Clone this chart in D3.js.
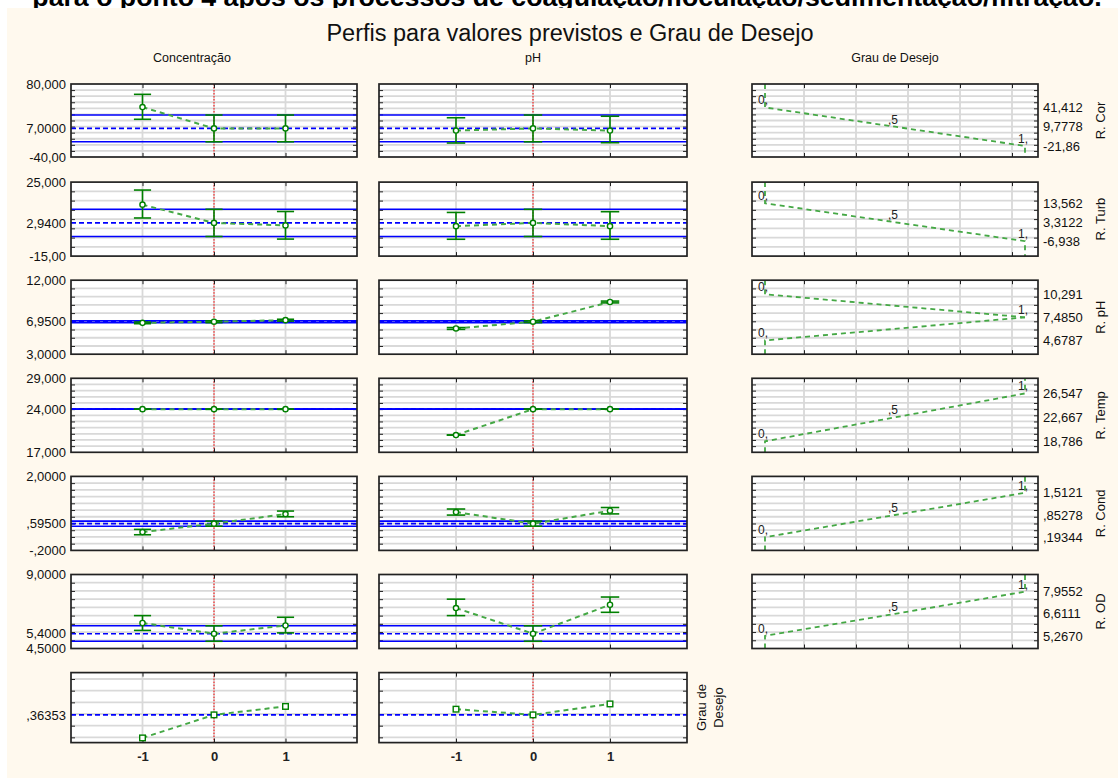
<!DOCTYPE html>
<html>
<head>
<meta charset="utf-8">
<script src="https://cdn.jsdelivr.net/npm/d3@7"></script>
<style>
  body { margin: 0; background: #fff; }
  svg { display: block; }
  text { font-family: "Liberation Sans", Arial, sans-serif; fill: #111; }
</style>
</head>
<body>
<svg id="chart" width="1118" height="778"></svg>
<script>
// ---- data ----
const levels = [-1, 0, 1];
const factorNames = ["Concentração", "pH"];
const responseNames = ["R. Cor", "R. Turb", "R. pH", "R. Temp", "R. Cond", "R. OD"];
const desirName = ["Grau de", "Desejo"];

// y range of each row (responses, then overall desirability)
const yRanges = [[-40, 80], [-15, 25], [3, 12], [17, 29], [-0.2, 2.0], [4.5, 9.0], [0.316, 0.436]];
const gridFirst = [-30, -10, 4, 18, 0, 5.0, 0.325];
const gridStep = [10, 5, 1, 1, 0.2, 0.5, 0.02];

// predicted value and confidence band at the current setting (level 0)
const currentPred = [7.0, 2.94, 6.95, 24.0, 0.595, 5.40, 0.36353];
const currentLo = [-15, -4.4, 6.84, 24.0, 0.52, 4.94];
const currentHi = [29, 10.3, 7.06, 24.0, 0.67, 5.88];

// profiles over Concentração (levels -1, 0, 1)
const concPred = [[42, 7, 7], [12.8, 2.94, 1.6], [6.81, 6.95, 7.14], [24, 24, 24], [0.345, 0.595, 0.88], [6.05, 5.40, 5.9], [0.324, 0.36353, 0.378]];
const concLo = [[22, -15, -15], [5.6, -4.4, -5.8], [6.71, 6.84, 7.03], [24, 24, 24], [0.265, 0.52, 0.80], [5.60, 4.94, 5.45]];
const concHi = [[63, 29, 29], [20.7, 10.3, 9.1], [6.91, 7.06, 7.25], [24, 24, 24], [0.425, 0.67, 0.97], [6.50, 5.88, 6.40]];

// profiles over pH (levels -1, 0, 1)
const phPred = [[3.5, 7, 3.5], [1.2, 2.94, 1.2], [6.13, 6.95, 9.35], [19.8, 24, 24], [0.94, 0.595, 0.98], [6.96, 5.40, 7.16], [0.3733, 0.36353, 0.3823]];
const phLo = [[-17, -15, -16.5], [-5.9, -4.4, -5.9], [6.02, 6.84, 9.24], [19.8, 24, 24], [0.85, 0.52, 0.885], [6.50, 4.94, 6.70]];
const phHi = [[24.5, 29, 27], [8.6, 10.3, 9.0], [6.24, 7.06, 9.46], [19.8, 24, 24], [1.03, 0.67, 1.075], [7.50, 5.88, 7.63]];

// desirability functions: response values at d = 0, 0.5, 1
// ("target" rows: high limit, target, low limit)
const desLevels = [0, 0.5, 1];
const desValues = [
  [41.412, 9.7778, -21.86],
  [13.562, 3.3122, -6.938],
  [10.291, 7.4850, 4.6787],
  [18.786, 22.667, 26.547],
  [0.19344, 0.85278, 1.5121],
  [5.2670, 6.6111, 7.9552]
];
const desShape = ["smaller", "smaller", "target", "larger", "larger", "larger"];

const titleTop = "para o ponto 4 após os processos de coagulação/floculação/sedimentação/filtração.";
const title = "Perfis para valores previstos e Grau de Desejo";

// ---- layout ----
const colX = [[71, 357], [379, 687], [752, 1038]];
const rowTop = d3.range(7).map(i => 84 + i * 98.1);
const rowH = [73, 74, 74, 74, 74, 74, 70];

const GREEN = "#008000", GREEN_L = "#45a845", BLUE = "#0000ff", RED = "#ff0000", GRID = "#d9d9d9";

const fmtNum = v => {
  const neg = v < 0;
  let s = d3.format("." + (neg ? 4 : 5) + "r")(Math.abs(v));
  s = s.replace(/^0\./, ".").replace(".", ",");
  return (neg ? "-" : "") + s;
};
const fmtDes = d => {
  const s = String(d);
  if (s.indexOf(".") < 0) return s + ",";
  return s.replace(/^0\./, ",").replace(".", ",");
};

const svg = d3.select("#chart");

// caption line of the page, mostly above the top edge
svg.append("text").attr("x", 567).attr("y", 6).attr("text-anchor", "middle")
  .attr("font-size", 26.7).attr("font-weight", "bold").style("fill", "#000").text(titleTop);

svg.append("rect").attr("x", 7).attr("y", 8).attr("width", 1111).attr("height", 770).attr("fill", "#fff9ee");

svg.append("text").attr("x", 570).attr("y", 41).attr("text-anchor", "middle")
  .attr("font-size", 23.5).style("fill", "#111").text(title);

const headerX = [192, 533, 895];
[...factorNames, "Grau de Desejo"].forEach((t, i) => {
  svg.append("text").attr("x", headerX[i]).attr("y", 62).attr("text-anchor", "middle")
    .attr("font-size", 12.5).text(t);
});

function gridTicks(r) {
  const [lo, hi] = yRanges[r];
  return d3.range(gridFirst[r], hi - gridStep[r] * 0.01, gridStep[r]).filter(v => v > lo + 1e-9);
}

function innerAxes(g, x, y, xt, yt, x0, x1, top, h) {
  const clean = sel => { sel.select(".domain").remove(); sel.selectAll("line").attr("stroke", "#222").attr("stroke-width", 1); };
  g.append("g").attr("transform", `translate(${x0},0)`).call(d3.axisLeft(y).tickValues(yt).tickSize(-4).tickFormat("")).call(clean);
  g.append("g").attr("transform", `translate(${x1},0)`).call(d3.axisRight(y).tickValues(yt).tickSize(-4).tickFormat("")).call(clean);
  g.append("g").attr("transform", `translate(0,${top})`).call(d3.axisTop(x).tickValues(xt).tickSize(-4).tickFormat("")).call(clean);
  g.append("g").attr("transform", `translate(0,${top + h})`).call(d3.axisBottom(x).tickValues(xt).tickSize(-4).tickFormat("")).call(clean);
}

function panelBase(g, x, y, xt, yt, x0, x1, top, h) {
  g.append("rect").attr("x", x0).attr("y", top).attr("width", x1 - x0).attr("height", h).attr("fill", "#fff");
  g.selectAll(null).data(yt).join("line")
    .attr("x1", x0).attr("x2", x1).attr("y1", d => y(d)).attr("y2", d => y(d))
    .attr("stroke", GRID).attr("stroke-width", 1.8);
  g.selectAll(null).data(xt).join("line")
    .attr("x1", d => x(d)).attr("x2", d => x(d)).attr("y1", top).attr("y2", top + h)
    .attr("stroke", GRID).attr("stroke-width", 1.8);
}

function frame(g, x0, x1, top, h) {
  g.append("rect").attr("x", x0).attr("y", top).attr("width", x1 - x0).attr("height", h)
    .attr("fill", "none").attr("stroke", "#222").attr("stroke-width", 1.7);
}

function factorPanel(c, r, pred, lo, hi) {
  const [x0, x1] = colX[c];
  const top = rowTop[r], h = rowH[r];
  const x = d3.scaleLinear().domain([-2, 2]).range([x0, x1]);
  const y = d3.scaleLinear().domain(yRanges[r]).range([top + h, top]);
  const g = svg.append("g");
  const yt = gridTicks(r);
  panelBase(g, x, y, levels, yt, x0, x1, top, h);
  g.append("line").attr("x1", x(0)).attr("x2", x(0)).attr("y1", top).attr("y2", top + h)
    .attr("stroke", RED).attr("stroke-width", 1).attr("stroke-dasharray", "1.5,1.5");
  innerAxes(g, x, y, levels, yt, x0, x1, top, h);

  // confidence band and prediction at the current setting
  if (r < currentLo.length) {
    [currentLo[r], currentHi[r]].forEach(v => {
      g.append("line").attr("x1", x0).attr("x2", x1).attr("y1", y(v)).attr("y2", y(v))
        .attr("stroke", BLUE).attr("stroke-width", 1.6);
    });
  }
  g.append("line").attr("x1", x0).attr("x2", x1).attr("y1", y(currentPred[r])).attr("y2", y(currentPred[r]))
    .attr("stroke", BLUE).attr("stroke-width", 1.6).attr("stroke-dasharray", "5,3");

  const pts = levels.map((l, i) => ({ l, v: pred[i], lo: lo ? lo[i] : null, hi: hi ? hi[i] : null }));
  g.append("path").datum(pts)
    .attr("d", d3.line().x(d => x(d.l)).y(d => y(d.v)))
    .attr("fill", "none").attr("stroke", GREEN_L).attr("stroke-width", 2).attr("stroke-dasharray", "5,4");

  const cap = (x(1) - x(0)) * 0.12;
  if (lo) {
    pts.forEach(d => {
      const eb = g.append("g").attr("stroke", GREEN).attr("stroke-width", 1.6);
      eb.append("line").attr("x1", x(d.l)).attr("x2", x(d.l)).attr("y1", y(d.lo)).attr("y2", y(d.hi));
      [d.lo, d.hi].forEach(v => eb.append("line")
        .attr("x1", x(d.l) - cap).attr("x2", x(d.l) + cap).attr("y1", y(v)).attr("y2", y(v)));
    });
    g.selectAll(null).data(pts).join("circle")
      .attr("cx", d => x(d.l)).attr("cy", d => y(d.v)).attr("r", 2.6)
      .attr("fill", "#fff").attr("stroke", GREEN).attr("stroke-width", 1.4);
  } else {
    g.selectAll(null).data(pts).join("rect")
      .attr("x", d => x(d.l) - 2.8).attr("y", d => y(d.v) - 2.8).attr("width", 5.6).attr("height", 5.6)
      .attr("fill", "#fff").attr("stroke", GREEN).attr("stroke-width", 1.4);
  }
  frame(g, x0, x1, top, h);

  if (c === 0) {
    const lab = r < 6 ? [yRanges[r][1], currentPred[r], yRanges[r][0]] : [currentPred[r]];
    const ax = g.append("g").attr("transform", `translate(${x0},0)`)
      .call(d3.axisLeft(y).tickValues(lab).tickSize(0).tickPadding(5).tickFormat(fmtNum));
    ax.select(".domain").remove();
    ax.selectAll("text").attr("font-size", 13).attr("font-family", null).style("fill", "#111");
  }
  if (r === 6) {
    const ax = g.append("g").attr("transform", `translate(0,${top + h})`)
      .call(d3.axisBottom(x).tickValues(levels).tickSize(0).tickPadding(9).tickFormat(d => String(d)));
    ax.select(".domain").remove();
    ax.selectAll("text").attr("font-size", 13).attr("font-weight", "bold").attr("font-family", null).style("fill", "#222");
  }
}

function desirPanel(r) {
  const [x0, x1] = colX[2];
  const top = rowTop[r], h = rowH[r];
  const x = d3.scaleLinear().domain([-0.05, 1.05]).range([x0, x1]);
  const y = d3.scaleLinear().domain(yRanges[r]).range([top + h, top]);
  const g = svg.append("g");
  const yt = gridTicks(r);
  const xt = d3.range(0.15, 1.0, 0.2);
  panelBase(g, x, y, xt, yt, x0, x1, top, h);
  innerAxes(g, x, y, xt, yt, x0, x1, top, h);

  const [lo, hi] = yRanges[r];
  const vals = desValues[r];
  let curves, marks;
  if (desShape[r] === "target") {
    curves = [
      [[0, hi], [0, vals[0]], [1, vals[1]]],
      [[0, lo], [0, vals[2]], [1, vals[1]]]
    ];
    marks = [[0, vals[0]], [1, vals[1]], [0, vals[2]]];
  } else {
    const start = desShape[r] === "smaller" ? hi : lo;
    const end = desShape[r] === "smaller" ? lo : hi;
    const pts = desLevels.map((d, i) => [d, vals[i]]);
    curves = [[[0, start], ...pts, [1, end]]];
    marks = pts;
  }
  curves.forEach(cv => {
    g.append("path").datum(cv)
      .attr("d", d3.line().x(d => x(d[0])).y(d => y(d[1])))
      .attr("fill", "none").attr("stroke", GREEN_L).attr("stroke-width", 1.8).attr("stroke-dasharray", "5,4");
  });
  g.selectAll(null).data(marks).join("text")
    .attr("x", d => x(d[0]) - 7).attr("y", d => y(d[1]) - 3)
    .attr("font-size", 12).style("fill", "#222").text(d => fmtDes(d[0]));
  frame(g, x0, x1, top, h);

  const ax = g.append("g").attr("transform", `translate(${x1},0)`)
    .call(d3.axisRight(y).tickValues(vals).tickSize(0).tickPadding(5).tickFormat(fmtNum));
  ax.select(".domain").remove();
  ax.selectAll("text").attr("font-size", 13).attr("font-family", null).style("fill", "#111");

  svg.append("text")
    .attr("transform", `translate(1105,${top + h / 2}) rotate(-90)`)
    .attr("text-anchor", "middle").attr("font-size", 13).text(responseNames[r]);
}

for (let r = 0; r < 7; r++) {
  factorPanel(0, r, concPred[r], concLo[r], concHi[r]);
  factorPanel(1, r, phPred[r], phLo[r], phHi[r]);
  if (r < 6) desirPanel(r);
}

desirName.forEach((t, i) => {
  svg.append("text")
    .attr("transform", `translate(${706 + i * 17},${rowTop[6] + rowH[6] / 2}) rotate(-90)`)
    .attr("text-anchor", "middle").attr("font-size", 13).text(t);
});
</script>
</body>
</html>
